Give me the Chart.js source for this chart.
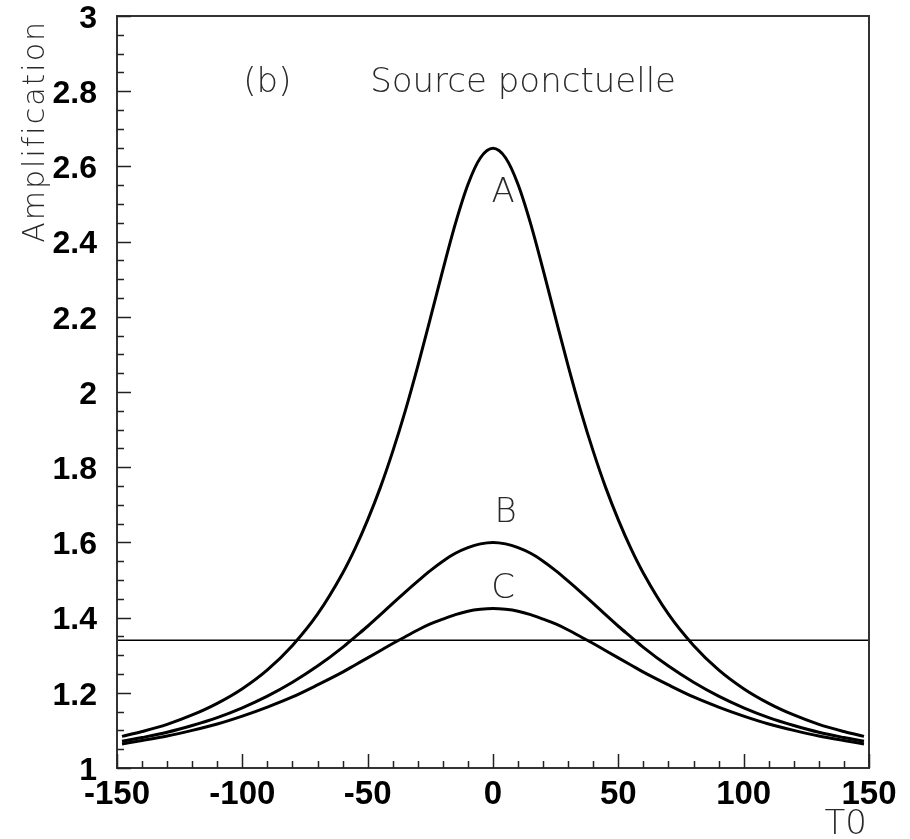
<!DOCTYPE html>
<html>
<head>
<meta charset="utf-8">
<script src="https://cdn.jsdelivr.net/npm/chart.js@4.4.1/dist/chart.umd.min.js"></script>
<style>
  html, body { margin: 0; padding: 0; background: #fff; }
  #wrap { width: 910px; height: 839px; }
</style>
</head>
<body>
<div id="wrap"><canvas id="ampChart" width="910" height="839"></canvas></div>
<script>
// T0 values (x) and amplification
const tValues = [-148, -140, -130, -120, -110, -100, -90, -80, -70, -60, -55, -50, -45, -40, -35, -30, -25, -20, -15, -10, -5, 0,
  5, 10, 15, 20, 25, 30, 35, 40, 45, 50, 55, 60, 70, 80, 90, 100, 110, 120, 130, 140, 148];

const curveA = [1.084, 1.097, 1.116, 1.141, 1.172, 1.211, 1.261, 1.326, 1.409, 1.518, 1.584, 1.660, 1.745, 1.842, 1.950, 2.069, 2.196, 2.325, 2.448, 2.552, 2.623, 2.648,
  2.623, 2.552, 2.448, 2.325, 2.196, 2.069, 1.950, 1.842, 1.745, 1.660, 1.584, 1.518, 1.409, 1.326, 1.261, 1.211, 1.172, 1.141, 1.116, 1.097, 1.084];

const curveB = [1.071, 1.081, 1.095, 1.113, 1.134, 1.160, 1.191, 1.228, 1.271, 1.321, 1.349, 1.377, 1.407, 1.438, 1.468, 1.497, 1.525, 1.550, 1.571, 1.586, 1.596, 1.600,
  1.596, 1.586, 1.571, 1.550, 1.525, 1.497, 1.468, 1.438, 1.407, 1.377, 1.349, 1.321, 1.271, 1.228, 1.191, 1.160, 1.134, 1.113, 1.095, 1.081, 1.071];

const curveC = [1.064, 1.073, 1.085, 1.100, 1.117, 1.138, 1.162, 1.189, 1.221, 1.255, 1.274, 1.293, 1.312, 1.331, 1.349, 1.367, 1.383, 1.396, 1.408, 1.417, 1.422, 1.424,
  1.422, 1.417, 1.408, 1.396, 1.383, 1.367, 1.349, 1.331, 1.312, 1.293, 1.274, 1.255, 1.221, 1.189, 1.162, 1.138, 1.117, 1.100, 1.085, 1.073, 1.064];

const thresholdX = [-150, 150];
const thresholdY = [1.34, 1.34];

// curve labels and captions, in data units
const curveLabels = [
  { text: 'A', x: 4, y: 2.529 },
  { text: 'B', x: 5, y: 1.678 },
  { text: 'C', x: 4, y: 1.476 }
];
const captionB = { text: '(b)', x: -90, y: 2.822 };
const captionSrc = { text: 'Source ponctuelle', x: -49, y: 2.822 };

const xMin = -150, xMax = 150, xMajor = 50, xMinor = 10;
const yMin = 1, yMax = 3, yMajor = 0.2, yMinor = 0.05;

const thinFont = '"DejaVu Sans", sans-serif';
const boldFont = '"Liberation Sans", Arial, Helvetica, sans-serif';

function toPoints(xs, ys) {
  return xs.map((x, i) => ({ x: x, y: ys[i] }));
}

const curveStyle = {
  borderColor: '#000',
  borderWidth: 3,
  pointRadius: 0,
  fill: false,
  showLine: true,
  cubicInterpolationMode: 'monotone'
};

const decorPlugin = {
  id: 'decor',
  afterDatasetsDraw(chart) {
    const ctx = chart.ctx;
    const xs = chart.scales.x;
    const ys = chart.scales.y;
    const a = chart.chartArea;
    ctx.save();

    // frame
    ctx.strokeStyle = '#333';
    ctx.lineWidth = 2;
    ctx.strokeRect(a.left, a.top, a.right - a.left, a.bottom - a.top);

    // ticks, drawn inwards
    ctx.strokeStyle = '#222';
    ctx.lineWidth = 1.5;
    ctx.beginPath();
    for (let v = xMin; v <= xMax + 0.001; v += xMinor) {
      const px = Math.round(xs.getPixelForValue(v)) + 0.5;
      const len = Math.abs(v % xMajor) < 0.001 ? 14 : 7;
      ctx.moveTo(px, a.bottom);
      ctx.lineTo(px, a.bottom - len);
    }
    for (let k = 0; k <= Math.round((yMax - yMin) / yMinor); k++) {
      const v = yMin + k * yMinor;
      const py = Math.round(ys.getPixelForValue(v)) + 0.5;
      const len = k % 4 === 0 ? 14 : 7;
      ctx.moveTo(a.left, py);
      ctx.lineTo(a.left + len, py);
    }
    ctx.stroke();

    // thin texts
    ctx.fillStyle = '#2a2a2a';
    ctx.textBaseline = 'middle';
    ctx.font = '200 34px ' + thinFont;
    ctx.textAlign = 'center';
    curveLabels.forEach(l => {
      ctx.fillText(l.text, xs.getPixelForValue(l.x), ys.getPixelForValue(l.y));
    });
    ctx.fillText(captionB.text, xs.getPixelForValue(captionB.x), ys.getPixelForValue(captionB.y));
    ctx.textAlign = 'left';
    ctx.fillText(captionSrc.text, xs.getPixelForValue(captionSrc.x), ys.getPixelForValue(captionSrc.y));

    // axis titles
    ctx.textAlign = 'right';
    ctx.textBaseline = 'alphabetic';
    ctx.font = '200 34px ' + thinFont;
    ctx.fillText('T0', a.right - 2, 834);

    ctx.translate(44, a.top + 4);
    ctx.rotate(-Math.PI / 2);
    ctx.font = '200 30px ' + thinFont;
    ctx.letterSpacing = '2px';
    ctx.textAlign = 'right';
    ctx.fillText('Amplification', 0, 0);
    ctx.restore();
  }
};

new Chart(document.getElementById('ampChart').getContext('2d'), {
  type: 'scatter',
  data: {
    datasets: [
      Object.assign({ label: 'A', data: toPoints(tValues, curveA) }, curveStyle),
      Object.assign({ label: 'B', data: toPoints(tValues, curveB) }, curveStyle),
      Object.assign({ label: 'C', data: toPoints(tValues, curveC) }, curveStyle),
      {
        label: 'seuil',
        data: toPoints(thresholdX, thresholdY),
        showLine: true,
        borderColor: '#000',
        borderWidth: 1.5,
        pointRadius: 0
      }
    ]
  },
  options: {
    responsive: false,
    animation: false,
    events: [],
    layout: { autoPadding: false, padding: { left: 0, top: 16, right: 41, bottom: 0 } },
    plugins: { legend: { display: false }, tooltip: { enabled: false } },
    scales: {
      x: {
        type: 'linear',
        min: xMin,
        max: xMax,
        afterFit(scale) {
          scale.height = 71;
          scale.paddingLeft = 0;
          scale.paddingRight = 0;
        },
        grid: { display: false, drawTicks: false },
        border: { display: false },
        ticks: {
          stepSize: xMajor,
          autoSkip: false,
          maxRotation: 0,
          minRotation: 0,
          padding: 7,
          color: '#000',
          font: { family: boldFont, size: 33, weight: 'bold' }
        }
      },
      y: {
        type: 'linear',
        min: yMin,
        max: yMax,
        afterFit(scale) {
          scale.width = 117;
          scale.paddingTop = 0;
          scale.paddingBottom = 0;
        },
        grid: { display: false, drawTicks: false },
        border: { display: false },
        ticks: {
          stepSize: yMajor,
          padding: 20,
          labelOffset: 3,
          color: '#000',
          font: { family: boldFont, size: 32, weight: 'bold' },
          callback: v => String(+v.toFixed(1))
        }
      }
    }
  },
  plugins: [decorPlugin]
});
</script>
</body>
</html>
